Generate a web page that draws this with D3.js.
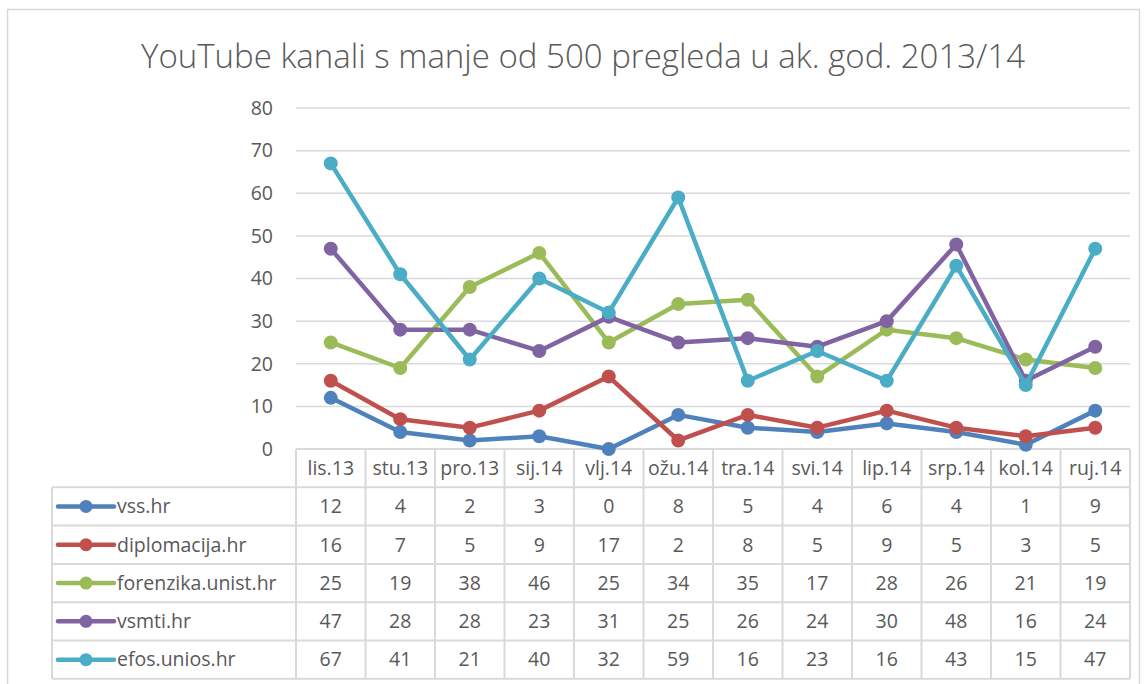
<!DOCTYPE html>
<html>
<head>
<meta charset="utf-8">
<script src="https://cdn.jsdelivr.net/npm/d3@7"></script>
<style>
  body { margin: 0; background: #fff; }
  text { font-family: "Open Sans", "Noto Sans", sans-serif; fill: #595959; }
</style>
</head>
<body>
<div id="chart"></div>
<script>
'use strict';

const months = ['lis.13', 'stu.13', 'pro.13', 'sij.14', 'vlj.14', 'ožu.14', 'tra.14', 'svi.14', 'lip.14', 'srp.14', 'kol.14', 'ruj.14'];
const seriesNames = ['vss.hr', 'diplomacija.hr', 'forenzika.unist.hr', 'vsmti.hr', 'efos.unios.hr'];
const vss = [12, 4, 2, 3, 0, 8, 5, 4, 6, 4, 1, 9];
const diplomacija = [16, 7, 5, 9, 17, 2, 8, 5, 9, 5, 3, 5];
const forenzika = [25, 19, 38, 46, 25, 34, 35, 17, 28, 26, 21, 19];
const vsmti = [47, 28, 28, 23, 31, 25, 26, 24, 30, 48, 16, 24];
const efos = [67, 41, 21, 40, 32, 59, 16, 23, 16, 43, 15, 47];
const yTicks = [0, 10, 20, 30, 40, 50, 60, 70, 80];
const title = 'YouTube kanali s manje od 500 pregleda u ak. god. 2013/14';

const colors = ['#4F81BD', '#C0504D', '#9BBB59', '#8064A2', '#4BACC6'];
const data = [vss, diplomacija, forenzika, vsmti, efos].map((values, i) => ({
  name: seriesNames[i], values: values, color: colors[i]
}));

const w = 1144, h = 684;
const margins = { left: 296, right: 14, top: 108 };
const plotBottom = 449;
const rowH = 38.3;
const legendLeft = 52;
const fontSize = '19.5px';

const svg = d3.select('#chart').append('svg')
  .attr('width', w).attr('height', h);

// chart frame
svg.append('rect')
  .attr('x', 7.5).attr('y', 9.5)
  .attr('width', w - 12).attr('height', h)
  .attr('fill', '#fff').attr('stroke', '#d9d9d9').attr('stroke-width', 1.5);

svg.append('text')
  .attr('x', 583).attr('y', 68)
  .attr('text-anchor', 'middle')
  .style('font-size', '33px')
  .style('font-weight', 300)
  .text(title);

const x = d3.scaleBand()
  .domain(months)
  .range([margins.left, w - margins.right]);

const y = d3.scaleLinear()
  .domain([0, 80])
  .range([plotBottom, margins.top]);

// gridlines
svg.append('g')
  .selectAll('line')
  .data(yTicks.slice(1))
  .enter()
  .append('line')
  .attr('x1', x.range()[0]).attr('x2', x.range()[1])
  .attr('y1', d => y(d)).attr('y2', d => y(d))
  .attr('stroke', '#d9d9d9').attr('stroke-width', 1.5);

// y axis labels
const yAxis = d3.axisLeft(y).tickValues(yTicks).tickSize(0).tickPadding(23);
const yg = svg.append('g')
  .attr('transform', 'translate(' + margins.left + ',0)')
  .call(yAxis);
yg.select('.domain').remove();
yg.selectAll('text')
  .style('font-size', fontSize)
  .style('font-family', '"Open Sans", sans-serif')
  .attr('fill', '#595959');

// table grid
const tableBottom = plotBottom + rowH * (data.length + 1);
const grid = svg.append('g')
  .attr('stroke', '#d9d9d9').attr('stroke-width', 2).attr('fill', 'none');

// vertical lines over columns
x.domain().concat([null]).forEach((m) => {
  const xx = m === null ? x.range()[1] : x(m);
  grid.append('line')
    .attr('x1', xx).attr('x2', xx)
    .attr('y1', plotBottom).attr('y2', tableBottom);
});
grid.append('line')
  .attr('x1', legendLeft).attr('x2', legendLeft)
  .attr('y1', plotBottom + rowH).attr('y2', tableBottom);

// horizontal lines
d3.range(data.length + 2).forEach(i => {
  const yy = plotBottom + rowH * i;
  grid.append('line')
    .attr('x1', i === 0 ? x.range()[0] : legendLeft)
    .attr('x2', x.range()[1])
    .attr('y1', yy).attr('y2', yy);
});

// header labels
svg.append('g')
  .selectAll('text')
  .data(months)
  .enter()
  .append('text')
  .attr('x', d => x(d) + x.bandwidth() / 2)
  .attr('y', plotBottom + rowH / 2)
  .attr('dy', '0.35em')
  .attr('text-anchor', 'middle')
  .style('font-size', fontSize)
  .text(d => d);

// rows
const rows = svg.append('g')
  .selectAll('g')
  .data(data)
  .enter()
  .append('g')
  .attr('transform', (d, i) => 'translate(0,' + (plotBottom + rowH * (i + 1.5)) + ')');

rows.append('line')
  .attr('x1', legendLeft + 6).attr('x2', legendLeft + 62)
  .attr('y1', 0).attr('y2', 0)
  .attr('stroke', d => d.color).attr('stroke-width', 4.5)
  .attr('stroke-linecap', 'round');
rows.append('circle')
  .attr('cx', legendLeft + 34).attr('cy', 0).attr('r', 6.5)
  .attr('fill', d => d.color);
rows.append('text')
  .attr('x', legendLeft + 65).attr('y', 0).attr('dy', '0.35em')
  .style('font-size', fontSize)
  .text(d => d.name);

rows.selectAll('.val')
  .data(d => d.values)
  .enter()
  .append('text')
  .attr('class', 'val')
  .attr('x', (d, i) => x(months[i]) + x.bandwidth() / 2)
  .attr('y', 0).attr('dy', '0.35em')
  .attr('text-anchor', 'middle')
  .style('font-size', fontSize)
  .text(d => d);

// lines and markers
const line = d3.line()
  .x((d, i) => x(months[i]) + x.bandwidth() / 2)
  .y(d => y(d));

const series = svg.append('g')
  .selectAll('g')
  .data(data)
  .enter()
  .append('g');

series.append('path')
  .attr('d', d => line(d.values))
  .attr('fill', 'none')
  .attr('stroke', d => d.color)
  .attr('stroke-width', 4.5)
  .attr('stroke-linejoin', 'round');

series.selectAll('circle')
  .data(d => d.values.map(v => ({ v: v, color: d.color })))
  .enter()
  .append('circle')
  .attr('cx', (d, i) => x(months[i]) + x.bandwidth() / 2)
  .attr('cy', d => y(d.v))
  .attr('r', 7)
  .attr('fill', d => d.color);
</script>
</body>
</html>
